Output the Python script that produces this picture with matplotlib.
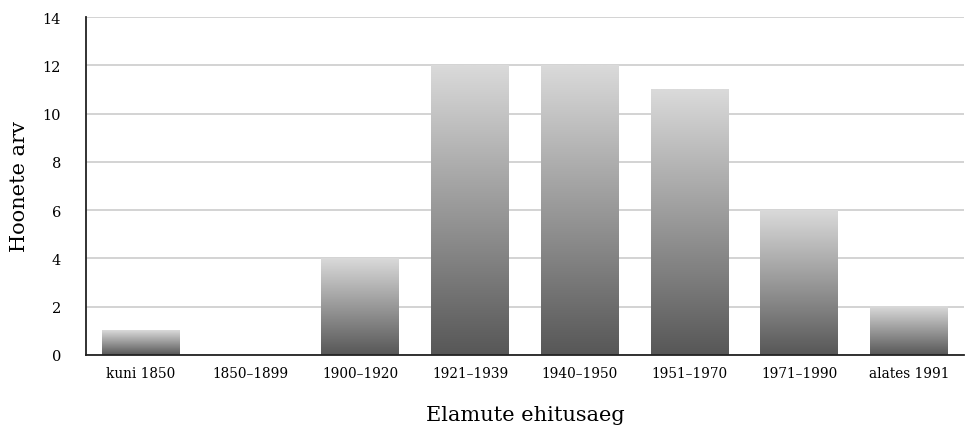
import matplotlib
matplotlib.use("Agg")
import matplotlib.pyplot as plt
import numpy as np
from matplotlib.colors import LinearSegmentedColormap

categories = ["kuni 1850", "1850–1899", "1900–1920", "1921–1939", "1940–1950", "1951–1970", "1971–1990", "alates 1991"]
values = [1, 0, 4, 12, 12, 11, 6, 2]
yticks = [0, 2, 4, 6, 8, 10, 12, 14]

plt.rcParams['font.family'] = ['DejaVu Serif']

fig = plt.figure(figsize=(9.69, 4.31), dpi=100)
ax = fig.add_axes([86/969, 1-356/431, (964-86)/969, (356-18)/431])

x = np.arange(len(categories))
bars = ax.bar(x, values, width=0.71, color='none', edgecolor='none', zorder=2)
cmap = LinearSegmentedColormap.from_list("g", ["#575757", "#dadada"])
grad = np.linspace(0, 1, 256).reshape(-1, 1)
for b in bars:
    h = b.get_height()
    if h <= 0:
        continue
    x0 = b.get_x(); w = b.get_width()
    ax.imshow(grad, cmap=cmap, origin='lower', aspect='auto',
              extent=[x0, x0 + w, 0, h], zorder=2, interpolation='bilinear')

ax.set_xlim(-0.5, len(categories) - 0.5)
ax.set_ylim(0, 14)
ax.set_yticks(yticks)
ax.set_xticks(x)
ax.set_xticklabels(categories, fontsize=9.8)
ax.tick_params(axis='y', labelsize=10.5, length=0, pad=18)
ax.tick_params(axis='x', length=0, pad=8)
ax.yaxis.grid(True, color='#cccccc', linewidth=1.2, zorder=0)
ax.set_axisbelow(True)
for s in ['top', 'right']:
    ax.spines[s].set_visible(False)
for s in ['left', 'bottom']:
    ax.spines[s].set_linewidth(1.3)
    ax.spines[s].set_color('#222222')
    ax.spines[s].set_zorder(3)
ax.set_xlabel("Elamute ehitusaeg", fontsize=15, labelpad=18)
ax.set_ylabel("Hoonete arv", fontsize=15, labelpad=10)

fig.savefig("out.png", dpi=100)
